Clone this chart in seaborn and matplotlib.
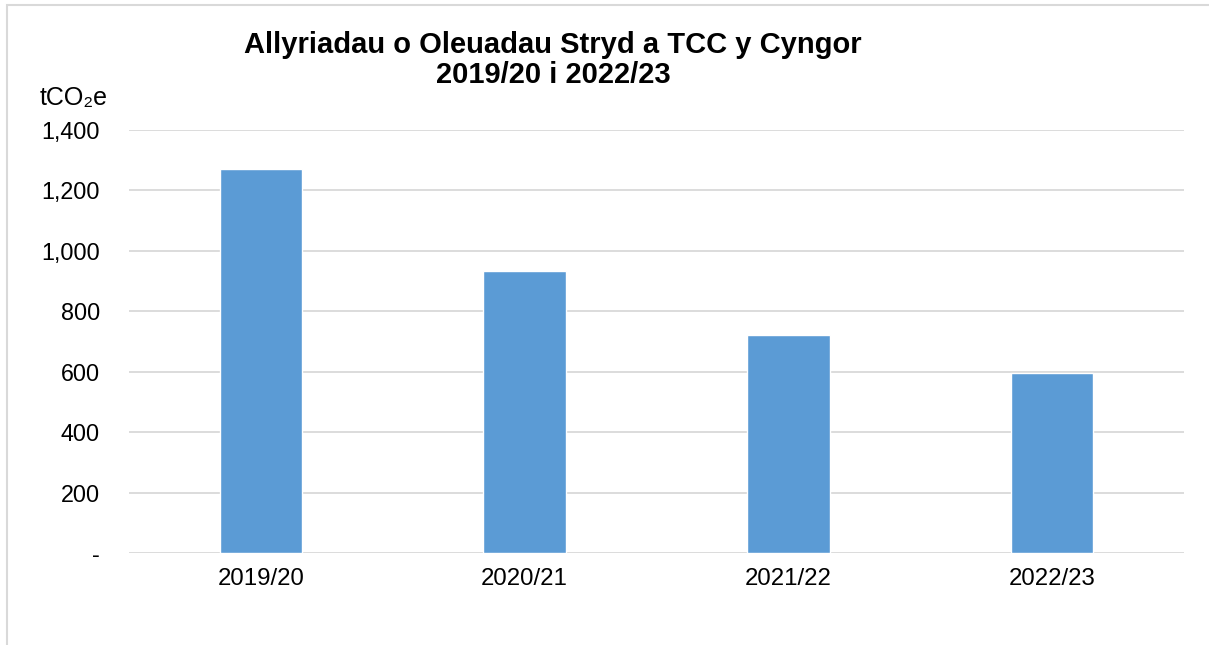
import matplotlib
matplotlib.use("Agg")
import matplotlib.pyplot as plt
from matplotlib.patches import Rectangle
from matplotlib.ticker import FuncFormatter
import seaborn as sns
import pandas as pd

# data
years = ["2019/20", "2020/21", "2021/22", "2022/23"]
emissions = [1270, 932, 723, 597]
yticks = [0, 200, 400, 600, 800, 1000, 1200, 1400]

df = pd.DataFrame({"year": years, "tco2e": emissions})

sns.set_theme(style="white")
plt.rcParams["font.family"] = ["Liberation Sans", "DejaVu Sans"]
plt.rcParams["text.color"] = "black"

fig = plt.figure(figsize=(12.09, 6.45), dpi=100)
ax = fig.add_axes([129 / 1209, 1 - 553 / 645, (1184 - 129) / 1209, (553 - 130) / 645])

sns.barplot(data=df, x="year", y="tco2e", color="#5b9bd5", saturation=1,
            width=0.313, ax=ax, zorder=3)

ax.set_ylim(0, 1400)
ax.set_yticks(yticks)
ax.yaxis.set_major_formatter(FuncFormatter(lambda v, p: "-" if v == 0 else f"{int(v):,}"))
ax.grid(axis="y", color="#d9d9d9", linewidth=1.3, zorder=0)
ax.grid(axis="x", visible=False)
for s in ax.spines.values():
    s.set_visible(False)
ax.tick_params(axis="y", length=0, pad=21, labelsize=16.8, labelcolor="black")
ax.tick_params(axis="x", length=0, pad=11, labelsize=17.3, labelcolor="black")
ax.set_xlabel("")
ax.set_ylabel("")

fig.text(553 / 1209, 1 - 60 / 645, "Allyriadau o Oleuadau Stryd a TCC y Cyngor\n2019/20 i 2022/23",
         ha="center", va="center", fontsize=21, fontweight="bold", linespacing=1.12, color="black")
fig.text(40 / 1209, 1 - 98 / 645, "tCO₂e", ha="left", va="center", fontsize=18, color="black")

# chart frame
fig.patches.append(Rectangle((7 / 1209, -0.01), 1.1, 1 - 5 / 645 + 0.01, transform=fig.transFigure,
                             fill=False, edgecolor="#d9d9d9", linewidth=1.5))

fig.savefig("out.png", dpi=100)
